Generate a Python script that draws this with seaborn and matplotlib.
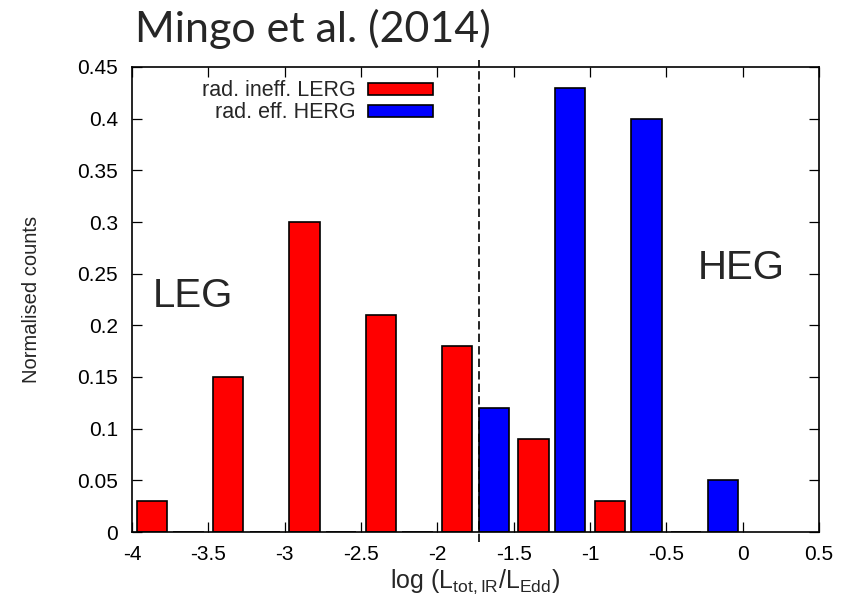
import numpy as np
import pandas as pd
import matplotlib
matplotlib.use("Agg")
import matplotlib.pyplot as plt
from matplotlib.patches import Patch
import seaborn as sns

# Histogram of log(L_tot,IR / L_Edd) for the two radio-galaxy classes
bin_edges = [-4.0, -3.5, -3.0, -2.5, -2.0, -1.5, -1.0, -0.5, 0.0]
bin_centres = [-3.75, -3.25, -2.75, -2.25, -1.75, -1.25, -0.75, -0.25]
lerg_counts = [0.03, 0.15, 0.30, 0.21, 0.18, 0.09, 0.03, 0.00]
herg_counts = [0.00, 0.00, 0.00, 0.00, 0.12, 0.43, 0.40, 0.05]

series_names = ["rad. ineff. LERG", "rad. eff. HERG"]
series_colours = ["#ff0000", "#0000ff"]

x_ticks = [-4, -3.5, -3, -2.5, -2, -1.5, -1, -0.5, 0, 0.5]
x_tick_labels = ["-4", "-3.5", "-3", "-2.5", "-2", "-1.5", "-1", "-0.5", "0", "0.5"]
y_ticks = [0, 0.05, 0.1, 0.15, 0.2, 0.25, 0.3, 0.35, 0.4, 0.45]
y_tick_labels = ["0", "0.05", "0.1", "0.15", "0.2", "0.25", "0.3", "0.35", "0.4", "0.45"]

divide_x = -1.73

df = pd.DataFrame({
    "logL": bin_centres * 2,
    "weight": lerg_counts + herg_counts,
    "sample": [series_names[0]] * len(bin_centres) + [series_names[1]] * len(bin_centres),
})

sns.set_style("ticks")
plt.rcParams["font.family"] = ["Liberation Sans", "DejaVu Sans"]
plt.rcParams["mathtext.fontset"] = "custom"
plt.rcParams["mathtext.rm"] = "Liberation Sans"
plt.rcParams["mathtext.it"] = "Liberation Sans"
plt.rcParams["axes.unicode_minus"] = False

fig = plt.figure(figsize=(8.42, 6.0), dpi=100)
ax = fig.add_axes([132 / 842, 1 - 532 / 600, (819 - 132) / 842, (532 - 67) / 600])

sns.histplot(
    data=df, x="logL", weights="weight", hue="sample",
    hue_order=series_names, palette=series_colours,
    bins=bin_edges, multiple="dodge", shrink=0.96,
    alpha=1, edgecolor="black", linewidth=1.2, legend=False, ax=ax,
)

# narrow each dodged bar about its centre so the pair in a bin is separated
bar_fraction = 0.2 / 0.24
for p in ax.patches:
    w = p.get_width()
    c = p.get_x() + w / 2
    p.set_width(w * bar_fraction)
    p.set_x(c - w * bar_fraction / 2)

ax.axvline(divide_x, ymin=-0.022, ymax=1.016, color="black", lw=1.2,
           linestyle=(0, (5, 2.5)), clip_on=False, zorder=3)

ax.set_xlim(-4, 0.5)
ax.set_ylim(0, 0.45)
ax.set_xticks(x_ticks)
ax.set_xticklabels(x_tick_labels)
ax.set_yticks(y_ticks)
ax.set_yticklabels(y_tick_labels)
ax.tick_params(direction="in", length=7, width=0.9, top=True, right=True,
               labelsize=15, colors="black")
ax.tick_params(axis="x", pad=9)
ax.tick_params(axis="y", pad=10)
for s in ax.spines.values():
    s.set_visible(True)
    s.set_linewidth(1.2)
    s.set_color("black")

ax.set_ylabel("Normalised counts", fontsize=14.5)
ax.yaxis.set_label_coords(-0.133, 0.5)
ax.set_xlabel(r"log (L$_{\rm tot,IR}$/L$_{\rm Edd}$)", fontsize=18, va="top")
ax.xaxis.set_label_coords(0.5, -0.076)

ax.text(-3.864, 0.2176, "LEG", fontsize=29, ha="left", va="baseline")
ax.text(-0.297, 0.245, "HEG", fontsize=29, ha="left", va="baseline")

handles = [Patch(facecolor=c, edgecolor="black", linewidth=1.2) for c in series_colours]
ax.legend(handles, series_names, loc="upper right", bbox_to_anchor=(0.438, 0.971),
          markerfirst=False, frameon=False, fontsize=15.5, handlelength=3.0,
          handleheight=0.5, handletextpad=0.6, labelspacing=0.04, borderpad=0,
          borderaxespad=0)

fig.text(135 / 842, 1 - 42 / 600, "Mingo et al. (2014)", fontsize=31,
         family=["Lato", "DejaVu Sans"], ha="left", va="baseline")

fig.savefig("out.png", dpi=100, facecolor="white")
